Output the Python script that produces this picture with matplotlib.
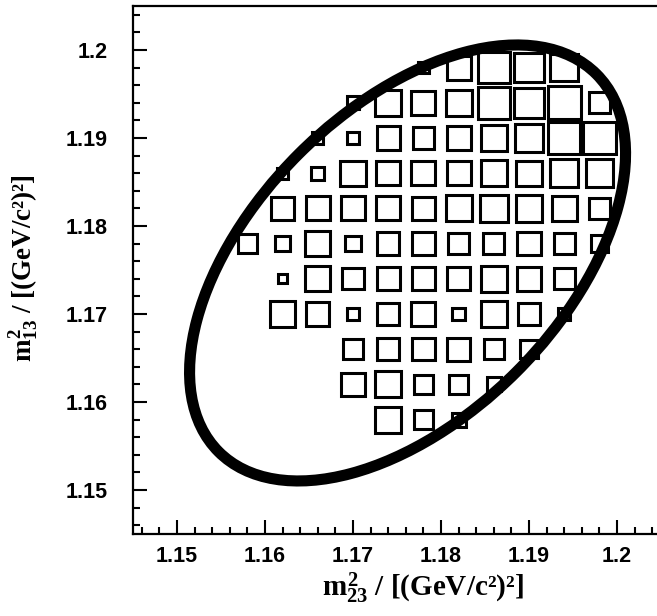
import numpy as np
import matplotlib.pyplot as plt
from matplotlib.patches import Rectangle, Ellipse
from matplotlib.ticker import MultipleLocator

plt.rcParams['mathtext.fontset'] = 'custom'
plt.rcParams['mathtext.rm'] = 'Liberation Serif:bold'
plt.rcParams['mathtext.it'] = 'Liberation Serif:bold'
plt.rcParams['mathtext.bf'] = 'Liberation Serif:bold'

# bin centres of the 2D histogram (GeV^2)
m23_bins = [1.158, 1.162, 1.166, 1.170, 1.174, 1.178, 1.182, 1.186, 1.190, 1.194, 1.198]
m13_bins = [1.198, 1.194, 1.190, 1.186, 1.182, 1.178, 1.174, 1.170, 1.166, 1.162, 1.158]

# bin contents, one row per m13 bin (top to bottom)
counts = np.array([
    [0, 0, 0, 0, 0, 12, 26, 34, 32, 30, 0],
    [0, 0, 0, 14, 28, 26, 28, 34, 32, 36, 23],
    [0, 0, 12, 12, 25, 23, 26, 28, 31, 35, 35],
    [0, 12, 14, 27, 26, 26, 26, 28, 27, 30, 30],
    [0, 24, 26, 26, 26, 24, 28, 30, 29, 27, 22],
    [20, 17, 27, 17, 24, 24, 22, 23, 25, 23, 18],
    [0, 10, 27, 23, 25, 25, 25, 28, 26, 23, 0],
    [0, 27, 25, 13, 24, 26, 14, 28, 23, 13, 0],
    [0, 0, 0, 22, 24, 24, 25, 22, 20, 0, 0],
    [0, 0, 0, 25, 28, 21, 20, 15, 0, 0, 0],
    [0, 0, 0, 0, 28, 20, 15, 0, 0, 0, 0],
])

# kinematic boundary, approximated by a tilted ellipse
bound_center = (1.1762, 1.1758)
bound_width = 0.0607
bound_height = 0.0350
bound_angle = 45

bin_w = 0.004
c_max = 38.0

fig = plt.figure(figsize=(6.57, 6.16), dpi=100)
ax = fig.add_axes([133 / 657, 82 / 616, 528 / 657, 528 / 616])

for i, y in enumerate(m13_bins):
    for j, x in enumerate(m23_bins):
        c = counts[i, j]
        if c <= 0:
            continue
        s = bin_w * c / c_max
        ax.add_patch(Rectangle((x - s / 2, y - s / 2), s, s, fill=False,
                               edgecolor='black', linewidth=2.2, zorder=2))

ax.add_patch(Ellipse(bound_center, bound_width, bound_height, angle=bound_angle,
                     fill=False, edgecolor='black', linewidth=8, zorder=3))

ax.set_xlim(1.145, 1.205)
ax.set_ylim(1.145, 1.205)

ax.xaxis.set_minor_locator(MultipleLocator(0.002))
ax.yaxis.set_minor_locator(MultipleLocator(0.002))

ticks = [1.15, 1.16, 1.17, 1.18, 1.19, 1.2]
tick_labels = ['1.15', '1.16', '1.17', '1.18', '1.19', '1.2']
ax.set_xticks(ticks)
ax.set_xticklabels(tick_labels, fontfamily='Liberation Sans', fontweight='bold', fontsize=15.5)
ax.set_yticks(ticks)
ax.set_yticklabels(tick_labels, fontfamily='Liberation Sans', fontweight='bold', fontsize=15.5)

ax.tick_params(axis='both', which='major', direction='in', length=10, width=1.5)
ax.tick_params(axis='both', which='minor', direction='in', length=5, width=1.5)
ax.tick_params(axis='x', pad=9)
ax.tick_params(axis='y', pad=18)
ax.tick_params(top=False, right=False, which='both')

for spine in ax.spines.values():
    spine.set_linewidth(1.6)

fig.text(423 / 657, 1 - 596 / 616, r'$m^{2}_{23}$ / [(GeV/c²)²]',
         ha='center', va='baseline', fontfamily='Liberation Serif',
         fontweight='bold', fontsize=21)
fig.text(32 / 657, 0.565, r'$m^{2}_{13}$ / [(GeV/c²)²]',
         rotation=90, rotation_mode='anchor', ha='center', va='baseline',
         fontfamily='Liberation Serif', fontweight='bold', fontsize=19.5)

fig.savefig('out.png', dpi=100)
